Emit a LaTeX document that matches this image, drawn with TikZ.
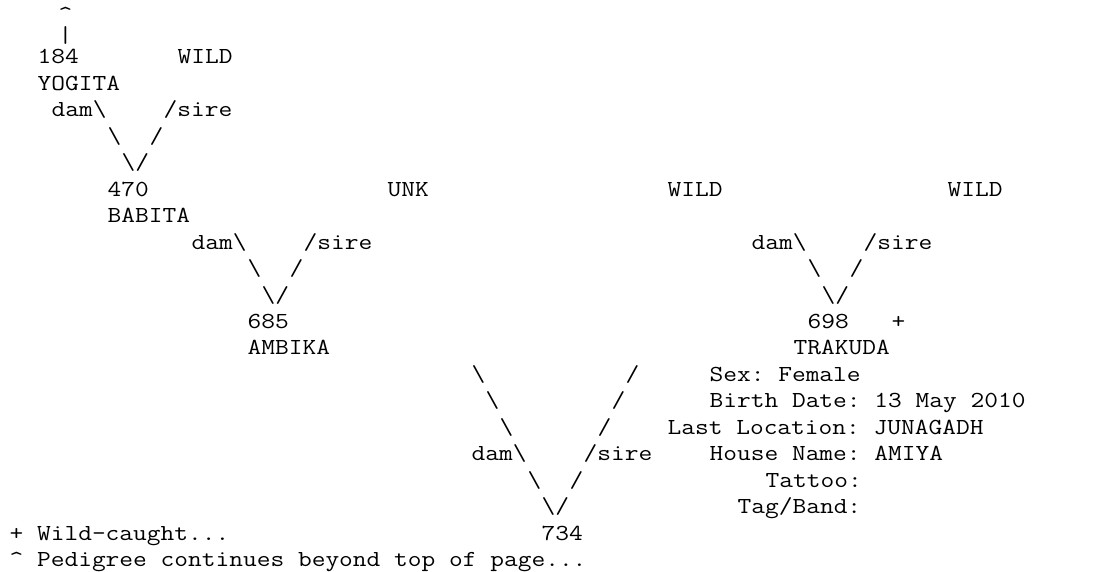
\documentclass[tikz,border=0pt]{standalone}
\usepackage{graphicx}
\newcommand\bs{\textbackslash}
\newcommand\vs[1]{\scalebox{1}[0.86]{#1}}
\tikzset{
  txt/.style={anchor=base west, inner sep=0pt, outer sep=0pt,
    font=\ttfamily\fontsize{26.67}{30}\selectfont\frenchspacing, text=black}
}
% name, column, line, text
\newcommand\AT[4]{\node[txt] (#1) at ({9.6+14*#2},{64+26.45*(#3-3)}) {\vs{#4}};}
\begin{document}
\begin{tikzpicture}[x=1pt,y=-1pt]
\useasboundingbox[fill=white] (0,0) rectangle (1104,572);
% top arrow
\node[txt] (up) at ({9.6+14*3.5},22) {\vs{\textasciicircum}};
\node[txt] (bar) at ({9.6+14*3.5},43) {\vs{\textbar}};
% line 3-4
\AT{n184}{2}{3}{184}
\AT{w1}{12}{3}{WILD}
\AT{yog}{2}{4}{YOGITA}
\AT{d1}{3}{5}{dam\bs}
\AT{s1}{11}{5}{/sire}
\AT{a1}{7}{6}{\bs}
\AT{b1}{10}{6}{/}
\AT{v1}{8}{7}{\bs/}
% line 8-9
\AT{n470}{7}{8}{470}
\AT{unk}{27}{8}{UNK}
\AT{w2}{47}{8}{WILD}
\AT{w3}{67}{8}{WILD}
\AT{bab}{7}{9}{BABITA}
% line 10-12
\AT{d2}{13}{10}{dam\bs}
\AT{s2}{21}{10}{/sire}
\AT{d3}{53}{10}{dam\bs}
\AT{s3}{61}{10}{/sire}
\AT{a2}{17}{11}{\bs}
\AT{b2}{20}{11}{/}
\AT{a3}{57}{11}{\bs}
\AT{b3}{60}{11}{/}
\AT{v2}{18}{12}{\bs/}
\AT{v3}{58}{12}{\bs/}
% line 13-14
\AT{n685}{17}{13}{685}
\AT{n698}{57}{13}{698}
\AT{plus}{63}{13}{+}
\AT{amb}{17}{14}{AMBIKA}
\AT{tra}{56}{14}{TRAKUDA}
% big V and info
\AT{a4}{33}{15}{\bs}
\AT{b4}{44}{15}{/}
\AT{sex}{50}{15}{Sex: Female}
\AT{a5}{34}{16}{\bs}
\AT{b5}{43}{16}{/}
\AT{bd}{50}{16}{Birth Date: 13 May 2010}
\AT{a6}{35}{17}{\bs}
\AT{b6}{42}{17}{/}
\AT{loc}{47}{17}{Last Location: JUNAGADH}
\AT{d4}{33}{18}{dam\bs}
\AT{s4}{41}{18}{/sire}
\AT{hn}{50}{18}{House Name: AMIYA}
\AT{a7}{37}{19}{\bs}
\AT{b7}{40}{19}{/}
\AT{tat}{54}{19}{Tattoo:}
\AT{v4}{38}{20}{\bs/}
\AT{tag}{52}{20}{Tag/Band:}
% bottom
\AT{wc}{0}{21}{+ Wild-caught...}
\AT{n734}{38}{21}{734}
\AT{ped}{0}{22}{\textasciicircum{} Pedigree continues beyond top of page...}
\end{tikzpicture}
\end{document}
